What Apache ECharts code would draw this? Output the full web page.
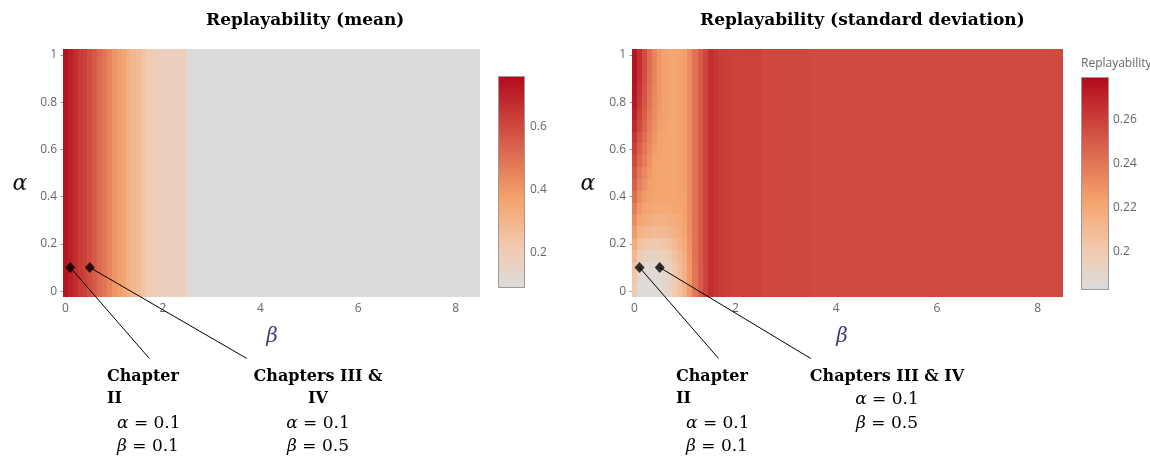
<!DOCTYPE html>
<html>
<head>
<meta charset="utf-8">
<script src="https://cdn.jsdelivr.net/npm/echarts@6/dist/echarts.min.js"></script>
<style>
  html, body { margin: 0; padding: 0; background: #ffffff; }
  #chart { width: 1150px; height: 459px; }
</style>
</head>
<body>
<div id="chart"></div>
<script>
// ---- grid values ----
const betas = [0, 0.1, 0.2, 0.3, 0.4, 0.5, 0.6, 0.7, 0.8, 0.9, 1.0, 1.1, 1.2, 1.3, 1.4,
               1.5, 1.6, 1.7, 1.8, 1.9, 2.0, 3, 4, 5, 6, 7, 8];
const alphas = [0, 0.05, 0.1, 0.15, 0.2, 0.25, 0.3, 0.35, 0.4, 0.45, 0.5,
                0.55, 0.6, 0.65, 0.7, 0.75, 0.8, 0.85, 0.9, 0.95, 1];

// mean replayability: one value per beta column (same for every alpha)
const meanByBeta = [0.74, 0.71, 0.67, 0.64, 0.62, 0.59, 0.56, 0.52, 0.49, 0.45, 0.41,
                    0.38, 0.36, 0.32, 0.29, 0.27, 0.24, 0.21, 0.195, 0.18, 0.175,
                    0.095, 0.089, 0.089, 0.089, 0.089, 0.089];

// standard deviation of replayability: one row per alpha (alpha = 0 first), one column per beta
const stdRows = [
  [0.200,0.185,0.184,0.184,0.184,0.185,0.188,0.192,0.200,0.206,0.214,0.227,0.240,0.250,0.258,0.266,0.264,0.261,0.260,0.260,0.259,0.257,0.2565,0.2565,0.2565,0.2565,0.2565],
  [0.203,0.187,0.185,0.185,0.185,0.186,0.189,0.193,0.201,0.207,0.215,0.227,0.240,0.250,0.258,0.266,0.264,0.261,0.260,0.260,0.259,0.257,0.2565,0.2565,0.2565,0.2565,0.2565],
  [0.206,0.191,0.188,0.187,0.187,0.188,0.191,0.195,0.202,0.208,0.216,0.228,0.240,0.250,0.258,0.266,0.264,0.261,0.260,0.260,0.259,0.257,0.2565,0.2565,0.2565,0.2565,0.2565],
  [0.212,0.198,0.195,0.193,0.192,0.193,0.196,0.200,0.205,0.211,0.218,0.229,0.241,0.250,0.258,0.266,0.264,0.261,0.260,0.260,0.259,0.257,0.2565,0.2565,0.2565,0.2565,0.2565],
  [0.219,0.207,0.204,0.202,0.201,0.202,0.204,0.207,0.210,0.215,0.220,0.230,0.241,0.250,0.258,0.266,0.264,0.261,0.260,0.260,0.259,0.257,0.2565,0.2565,0.2565,0.2565,0.2565],
  [0.226,0.215,0.213,0.211,0.210,0.210,0.211,0.213,0.215,0.218,0.222,0.231,0.241,0.250,0.258,0.266,0.264,0.261,0.260,0.260,0.259,0.257,0.2565,0.2565,0.2565,0.2565,0.2565],
  [0.232,0.222,0.219,0.217,0.216,0.216,0.216,0.217,0.218,0.220,0.223,0.231,0.241,0.250,0.258,0.266,0.264,0.261,0.260,0.260,0.259,0.257,0.2565,0.2565,0.2565,0.2565,0.2565],
  [0.238,0.228,0.223,0.221,0.220,0.220,0.220,0.220,0.221,0.222,0.224,0.232,0.241,0.250,0.258,0.266,0.264,0.261,0.260,0.260,0.259,0.257,0.2565,0.2565,0.2565,0.2565,0.2565],
  [0.243,0.232,0.226,0.223,0.222,0.222,0.222,0.222,0.222,0.223,0.224,0.232,0.241,0.250,0.258,0.266,0.264,0.261,0.260,0.260,0.259,0.257,0.2565,0.2565,0.2565,0.2565,0.2565],
  [0.248,0.236,0.230,0.225,0.223,0.222,0.222,0.222,0.222,0.223,0.225,0.232,0.241,0.250,0.258,0.266,0.264,0.261,0.260,0.260,0.259,0.257,0.2565,0.2565,0.2565,0.2565,0.2565],
  [0.252,0.240,0.233,0.227,0.223,0.222,0.221,0.222,0.222,0.223,0.225,0.232,0.241,0.250,0.258,0.266,0.264,0.261,0.260,0.260,0.259,0.257,0.2565,0.2565,0.2565,0.2565,0.2565],
  [0.256,0.244,0.237,0.230,0.224,0.222,0.222,0.222,0.222,0.223,0.225,0.232,0.241,0.250,0.258,0.266,0.264,0.261,0.260,0.260,0.259,0.257,0.2565,0.2565,0.2565,0.2565,0.2565],
  [0.260,0.248,0.240,0.232,0.226,0.223,0.222,0.222,0.222,0.223,0.225,0.232,0.241,0.250,0.258,0.266,0.264,0.261,0.260,0.260,0.259,0.257,0.2565,0.2565,0.2565,0.2565,0.2565],
  [0.264,0.252,0.243,0.235,0.228,0.224,0.223,0.222,0.222,0.223,0.225,0.232,0.241,0.250,0.258,0.266,0.264,0.261,0.260,0.260,0.259,0.257,0.2565,0.2565,0.2565,0.2565,0.2565],
  [0.268,0.256,0.246,0.237,0.230,0.225,0.223,0.222,0.222,0.223,0.225,0.232,0.241,0.250,0.258,0.266,0.264,0.261,0.260,0.260,0.259,0.257,0.2565,0.2565,0.2565,0.2565,0.2565],
  [0.272,0.259,0.249,0.239,0.232,0.226,0.224,0.222,0.222,0.223,0.225,0.232,0.241,0.250,0.258,0.266,0.264,0.261,0.260,0.260,0.259,0.257,0.2565,0.2565,0.2565,0.2565,0.2565],
  [0.274,0.262,0.251,0.241,0.233,0.227,0.224,0.222,0.222,0.223,0.225,0.232,0.241,0.250,0.258,0.266,0.264,0.261,0.260,0.260,0.259,0.257,0.2565,0.2565,0.2565,0.2565,0.2565],
  [0.276,0.264,0.253,0.242,0.234,0.228,0.224,0.222,0.222,0.223,0.225,0.232,0.241,0.250,0.258,0.266,0.264,0.261,0.260,0.260,0.259,0.257,0.2565,0.2565,0.2565,0.2565,0.2565],
  [0.277,0.266,0.255,0.243,0.235,0.228,0.224,0.222,0.222,0.223,0.225,0.232,0.241,0.250,0.258,0.266,0.264,0.261,0.260,0.260,0.259,0.257,0.2565,0.2565,0.2565,0.2565,0.2565],
  [0.277,0.266,0.255,0.244,0.235,0.228,0.224,0.222,0.222,0.223,0.225,0.232,0.241,0.250,0.258,0.266,0.264,0.261,0.260,0.260,0.259,0.257,0.2565,0.2565,0.2565,0.2565,0.2565],
  [0.276,0.266,0.255,0.244,0.235,0.228,0.224,0.222,0.222,0.223,0.225,0.232,0.241,0.250,0.258,0.266,0.264,0.261,0.260,0.260,0.259,0.257,0.2565,0.2565,0.2565,0.2565,0.2565]
];

// the two parameter settings that are marked on both maps
const chapterPoints = [[0.1, 0.1], [0.5, 0.1]];

// axis ticks and colour-bar ranges
const betaTicks = [0, 2, 4, 6, 8];
const alphaTicks = [0, 0.2, 0.4, 0.6, 0.8, 1];
const meanBarTicks = [0.2, 0.4, 0.6];
const stdBarTicks = [0.2, 0.22, 0.24, 0.26];
const meanRange = [0.089, 0.762];
const stdRange = [0.1827, 0.2795];

// ---- colour scale (grey -> peach -> orange -> red) ----
const scaleStops = [[0, [220, 220, 220]], [0.2, [242, 200, 172]], [0.42, [244, 163, 108]],
                    [0.7, [214, 90, 72]], [1, [178, 10, 28]]];
function scaleColor(t) {
  for (let i = 1; i < scaleStops.length; i++) {
    const [p1, c1] = scaleStops[i], [p0, c0] = scaleStops[i - 1];
    if (t <= p1) {
      const u = (t - p0) / (p1 - p0);
      return 'rgb(' + c0.map((c, k) => Math.round(c + (c1[k] - c) * u)).join(',') + ')';
    }
  }
  return 'rgb(' + scaleStops[scaleStops.length - 1][1].join(',') + ')';
}
const rampColors = [];
for (let i = 0; i <= 40; i++) rampColors.push(scaleColor(i / 40));

// cell edges halfway between neighbouring grid values
function edges(v) {
  const n = v.length, e = [v[0] - (v[1] - v[0]) / 2];
  for (let i = 1; i < n; i++) e.push((v[i - 1] + v[i]) / 2);
  e.push(v[n - 1] + (v[n - 1] - v[n - 2]) / 2);
  return e;
}
const bE = edges(betas), aE = edges(alphas);

function cellsFrom(valueAt) {
  const out = [];
  for (let i = 0; i < alphas.length; i++)
    for (let j = 0; j < betas.length; j++)
      out.push([bE[j], bE[j + 1], aE[i], aE[i + 1], valueAt(i, j)]);
  return out;
}
const meanCells = cellsFrom((i, j) => meanByBeta[j]);
const stdCells = cellsFrom((i, j) => stdRows[i][j]);

// cells snapped to whole pixels so neighbouring rectangles meet without seams
function renderCell(params, api) {
  const lo = api.coord([api.value(0), api.value(2)]);
  const hi = api.coord([api.value(1), api.value(3)]);
  const x0 = Math.round(lo[0]), x1 = Math.round(hi[0]);
  const y0 = Math.round(hi[1]), y1 = Math.round(lo[1]);
  return {
    type: 'rect',
    shape: { x: x0, y: y0, width: x1 - x0, height: y1 - y0 },
    style: { fill: api.visual('color') }
  };
}

function colorBarRenderer(range) {
  return function (params, api) {
    const top = api.coord([0, range[1]]), bottom = api.coord([0, range[0]]);
    const cs = params.coordSys;
    const stops = scaleStops.map(s => ({ offset: 1 - s[0], color: 'rgb(' + s[1].join(',') + ')' }));
    return {
      type: 'rect',
      shape: { x: cs.x + 0.5, y: top[1] + 0.5, width: cs.width - 1, height: bottom[1] - top[1] - 1 },
      style: { fill: new echarts.graphic.LinearGradient(0, 0, 0, 1, stops), stroke: '#9a9a9a', lineWidth: 1 }
    };
  };
}

// leader lines: pixel offset from each marked point to its caption
const leaderOffsets = [[[79, 91], [157, 91]], [[79, 91], [151, 91]]];
function leaderRenderer(offsets) {
  return function (params, api) {
    const p = api.coord([api.value(0), api.value(1)]);
    const o = offsets[params.dataIndex];
    return {
      type: 'line',
      shape: { x1: p[0], y1: p[1], x2: p[0] + o[0], y2: p[1] + o[1] },
      style: { stroke: '#000', lineWidth: 1 }
    };
  };
}

const tickFont = { color: '#666', fontSize: 12, fontFamily: 'Open Sans, sans-serif' };
function betaAxis(gridIndex) {
  return {
    type: 'value', gridIndex, min: -0.05, max: 8.5, offset: 2,
    axisLine: { show: false }, splitLine: { show: false },
    axisTick: { show: true, length: 5, customValues: betaTicks, lineStyle: { color: '#999' } },
    axisLabel: Object.assign({ customValues: betaTicks, margin: 4 }, tickFont)
  };
}
function alphaAxis(gridIndex) {
  return {
    type: 'value', gridIndex, min: -0.025, max: 1.025, offset: 2,
    axisLine: { show: false }, splitLine: { show: false },
    axisTick: { show: true, length: 5, customValues: alphaTicks, lineStyle: { color: '#999' } },
    axisLabel: Object.assign({ customValues: alphaTicks, margin: 4 }, tickFont)
  };
}
function barXAxis(gridIndex) {
  return { type: 'value', gridIndex, min: 0, max: 1, show: false };
}
function barYAxis(gridIndex, range, ticks, margin) {
  return {
    type: 'value', gridIndex, min: range[0], max: range[1], position: 'right',
    axisLine: { show: false }, splitLine: { show: false }, axisTick: { show: false },
    axisLabel: Object.assign({ customValues: ticks, margin }, tickFont)
  };
}

const titleFont = 'bold 17px "DejaVu Serif", serif';
const capFont = 'bold 16px "DejaVu Serif", serif';
const mathFont = '17px "DejaVu Serif", serif';
const mathRich = { i: { fontStyle: 'italic', font: 'italic 17px "DejaVu Serif", serif', fill: '#000' } };
function mathText(x, y, str, align) {
  return { type: 'text', x, y, style: { text: str, font: mathFont, fill: '#000', rich: mathRich,
    align: align || 'left', verticalAlign: 'middle' } };
}
function capText(x, y, str, align, lh) {
  return { type: 'text', x, y, style: { text: str, font: capFont, fill: '#000',
    align: align || 'left', verticalAlign: 'top', lineHeight: lh || 22 } };
}

const chart = echarts.init(document.getElementById('chart'), null, { renderer: 'canvas' });
chart.setOption({
  backgroundColor: '#ffffff',
  animation: false,
  grid: [
    { left: 63, top: 49, width: 417, height: 248 },
    { left: 632, top: 49, width: 431, height: 248 },
    { left: 498, top: 76, width: 27, height: 212 },
    { left: 1081, top: 77, width: 28, height: 213 }
  ],
  xAxis: [betaAxis(0), betaAxis(1), barXAxis(2), barXAxis(3)],
  yAxis: [alphaAxis(0), alphaAxis(1), barYAxis(2, meanRange, meanBarTicks, 5), barYAxis(3, stdRange, stdBarTicks, 4)],
  visualMap: [
    { type: 'continuous', show: false, seriesIndex: 0, dimension: 4, min: meanRange[0], max: meanRange[1], inRange: { color: rampColors } },
    { type: 'continuous', show: false, seriesIndex: 1, dimension: 4, min: stdRange[0], max: stdRange[1], inRange: { color: rampColors } }
  ],
  series: [
    { type: 'custom', name: 'Replayability (mean)', xAxisIndex: 0, yAxisIndex: 0, clip: true,
      encode: { x: [0, 1], y: [2, 3] }, renderItem: renderCell, data: meanCells },
    { type: 'custom', name: 'Replayability (standard deviation)', xAxisIndex: 1, yAxisIndex: 1, clip: true,
      encode: { x: [0, 1], y: [2, 3] }, renderItem: renderCell, data: stdCells },
    { type: 'custom', xAxisIndex: 2, yAxisIndex: 2, renderItem: colorBarRenderer(meanRange), data: [[0]], silent: true },
    { type: 'custom', xAxisIndex: 3, yAxisIndex: 3, renderItem: colorBarRenderer(stdRange), data: [[0]], silent: true },
    { type: 'custom', xAxisIndex: 0, yAxisIndex: 0, clip: false, renderItem: leaderRenderer(leaderOffsets[0]), data: chapterPoints, z: 3 },
    { type: 'custom', xAxisIndex: 1, yAxisIndex: 1, clip: false, renderItem: leaderRenderer(leaderOffsets[1]), data: chapterPoints, z: 3 },
    { type: 'scatter', xAxisIndex: 0, yAxisIndex: 0, symbol: 'diamond', symbolSize: [10, 11], itemStyle: { color: '#000' }, data: chapterPoints, z: 4 },
    { type: 'scatter', xAxisIndex: 1, yAxisIndex: 1, symbol: 'diamond', symbolSize: [10, 11], itemStyle: { color: '#000' }, data: chapterPoints, z: 4 }
  ],
  graphic: [
    { type: 'text', x: 206, y: 21, style: { text: 'Replayability (mean)', font: titleFont, fill: '#000', align: 'left', verticalAlign: 'middle' } },
    { type: 'text', x: 700, y: 21, style: { text: 'Replayability (standard deviation)', font: titleFont, fill: '#000', align: 'left', verticalAlign: 'middle' } },
    { type: 'text', x: 1081, y: 64, style: { text: 'Replayability', font: '12px "Open Sans", sans-serif', fill: '#666', align: 'left', verticalAlign: 'middle' } },
    { type: 'text', x: 20, y: 184, style: { text: 'α', font: 'italic 22px "DejaVu Serif", serif', fill: '#111', align: 'center', verticalAlign: 'middle' } },
    { type: 'text', x: 588, y: 184, style: { text: 'α', font: 'italic 22px "DejaVu Serif", serif', fill: '#111', align: 'center', verticalAlign: 'middle' } },
    { type: 'text', x: 272, y: 337, style: { text: 'β', font: 'italic 20px "DejaVu Serif", serif', fill: '#433a70', align: 'center', verticalAlign: 'middle' } },
    { type: 'text', x: 842, y: 337, style: { text: 'β', font: 'italic 20px "DejaVu Serif", serif', fill: '#433a70', align: 'center', verticalAlign: 'middle' } },
    // captions, left map
    capText(107, 366, 'Chapter\nII'),
    mathText(117, 424, '{i|α} = 0.1'),
    mathText(117, 447, '{i|β} = 0.1'),
    capText(318, 366, 'Chapters III &\nIV', 'center'),
    mathText(318, 424, '{i|α} = 0.1', 'center'),
    mathText(318, 447, '{i|β} = 0.5', 'center'),
    // captions, right map
    capText(676, 366, 'Chapter\nII'),
    mathText(686, 424, '{i|α} = 0.1'),
    mathText(686, 447, '{i|β} = 0.1'),
    capText(887, 366, 'Chapters III & IV', 'center'),
    mathText(887, 400, '{i|α} = 0.1', 'center'),
    mathText(887, 424, '{i|β} = 0.5', 'center')
  ]
});
</script>
</body>
</html>
